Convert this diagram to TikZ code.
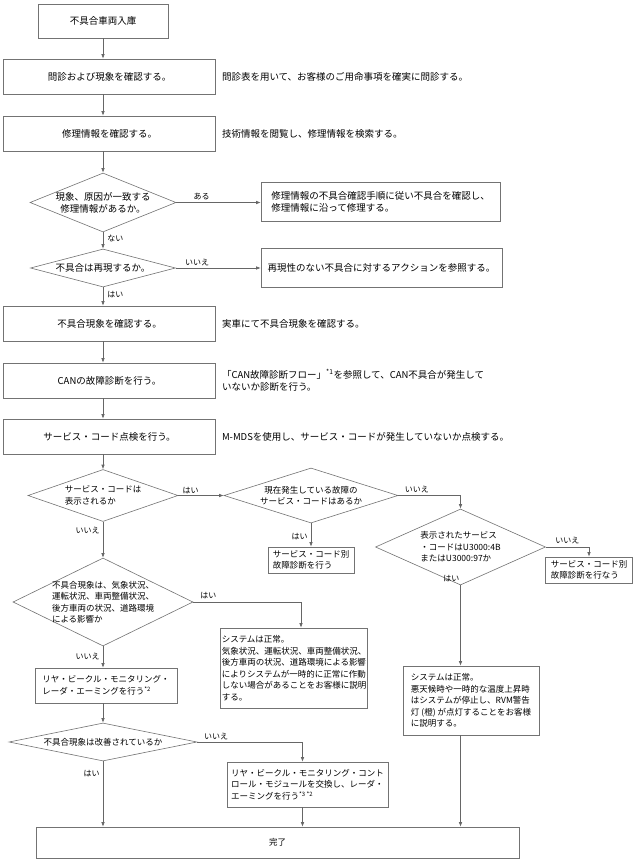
\documentclass[tikz,border=0pt]{standalone}
\usepackage{fontspec}
\setmainfont{Noto Sans CJK JP}
\usetikzlibrary{shapes.geometric,arrows.meta,positioning}

\tikzset{
  block/.style={rectangle, draw=black!55, line width=0.6pt, fill=white,
    inner sep=2pt, font=\fontsize{9.5}{12}\selectfont},
  textblock/.style={block, align=left},
  smallblock/.style={block, align=left, inner xsep=1.5pt, font=\fontsize{8.5}{11.5}\selectfont},
  decision/.style={diamond, draw=black!55, line width=0.6pt, fill=white,
    inner xsep=-12pt, inner ysep=-4pt, align=center, font=\fontsize{8.5}{11.5}\selectfont},
  bigfont/.style={font=\fontsize{9.5}{12}\selectfont},
  note/.style={inner sep=0pt, align=left, font=\fontsize{9.5}{12}\selectfont},
  lbl/.style={inner sep=0pt, font=\fontsize{8}{10}\selectfont},
  flow/.style={draw=black!60, line width=0.6pt, -{Latex[length=4.5pt,width=3.5pt]}}
}

\begin{document}
\begin{tikzpicture}[x=1pt, y=-1pt]
  \useasboundingbox (0,0) rectangle (635,861);

  % main column
  \node [block, minimum width=130pt, minimum height=34pt] (nyuko) at (103,21) {不具合車両入庫};
  \node [block, minimum width=212pt, minimum height=35pt] (monshin) at (109.5,76.5) {問診および現象を確認する。};
  \node [note, right=6pt of monshin] (monshinnote) {問診表を用いて、お客様のご用命事項を確実に問診する。};
  \node [block, minimum width=212pt, minimum height=35pt] (joho) at (109.5,133.5) {修理情報を確認する。};
  \node [note, right=6pt of joho] (johonote) {技術情報を閲覧し、修理情報を検索する。};

  \node [decision, bigfont, minimum width=146pt, minimum height=59pt, aspect=2.47] (icchi) at (103,202.5) {現象、原因が一致する\\修理情報があるか。};
  \node [textblock, minimum width=239pt, minimum height=39pt] (shuri) at (380.5,201.5) {修理情報の不具合確認手順に従い不具合を確認し、\\修理情報に沿って修理する。};

  \node [decision, bigfont, minimum width=145pt, minimum height=38pt, aspect=3.8] (saigen) at (103,268) {不具合は再現するか。};
  \node [textblock, minimum width=241pt, minimum height=39pt] (action) at (381.5,267.5) {再現性のない不具合に対するアクションを参照する。};

  \node [block, minimum width=212pt, minimum height=35pt] (genshou) at (109.5,323.5) {不具合現象を確認する。};
  \node [note, right=6pt of genshou] (genshounote) {実車にて不具合現象を確認する。};
  \node [block, minimum width=212pt, minimum height=35pt] (can) at (109.5,380.5) {CANの故障診断を行う。};
  \node [note, right=6pt of can] (cannote) {「CAN故障診断フロー」\textsuperscript{*1}を参照して、CAN不具合が発生して\\いないか診断を行う。};
  \node [block, minimum width=212pt, minimum height=35pt] (sc) at (109.5,436.5) {サービス・コード点検を行う。};
  \node [note, right=6pt of sc] (scnote) {M-MDSを使用し、サービス・コードが発生していないか点検する。};

  % service code branch
  \node [decision, align=left, minimum width=150pt, minimum height=52pt, aspect=2.9] (hyouji) at (103,495.5) {サービス・コードは\\表示されるか};
  \node [decision, minimum width=174pt, minimum height=55pt, aspect=3.2] (genzai) at (311,495.5) {現在発生している故障の\\サービス・コードはあるか};
  \node [smallblock, minimum width=86pt, minimum height=26pt] (scbetsu) at (311,560) {サービス・コード別\\故障診断を行う};
  \node [decision, align=left, minimum width=170pt, minimum height=76pt, aspect=2.2] (u3000) at (460.5,547) {表示されたサービス\\・コードはU3000:4B\\またはU3000:97か};
  \node [smallblock, minimum width=87pt, minimum height=26pt] (scbetsu2) at (589,570) {サービス・コード別\\故障診断を行なう};
  \node [smallblock, minimum width=136pt, minimum height=69pt] (rvm) at (471,700.5) {システムは正常。\\悪天候時や一時的な温度上昇時\\はシステムが停止し、RVM警告\\灯 (橙) が点灯することをお客様\\に説明する。};

  \node [decision, align=left, minimum width=180pt, minimum height=88pt, aspect=2.05] (eikyou) at (103,602) {不具合現象は、気象状況、\\運転状況、車両整備状況、\\後方車両の状況、道路環境\\による影響か};
  \node [smallblock, minimum width=146pt, minimum height=80pt] (seijou) at (294,668) {システムは正常。\\気象状況、運転状況、車両整備状況、\\後方車両の状況、道路環境による影響\\によりシステムが一時的に正常に作動\\しない場合があることをお客様に説明\\する。};
  \node [smallblock, minimum width=142pt, minimum height=35pt] (aiming) at (106,685.5) {リヤ・ビークル・モニタリング・\\レーダ・エーミングを行う\textsuperscript{*2}};

  \node [decision, minimum width=188pt, minimum height=38pt, aspect=4.9] (kaizen) at (103,742) {不具合現象は改善されているか};
  \node [smallblock, minimum width=161pt, minimum height=45pt] (koukan) at (307.5,784.5) {リヤ・ビークル・モニタリング・コント\\ロール・モジュールを交換し、レーダ・\\エーミングを行う\textsuperscript{*3 *2}};

  \node [block, font=\fontsize{8.5}{11}\selectfont, minimum width=483pt, minimum height=31pt] (kanryo) at (277.5,842.5) {完了};

  \coordinate (seijoutop) at ([xshift=7pt]seijou.north);
  \coordinate (koukantop) at ([xshift=-5pt]koukan.north);
  \coordinate (koukanbot) at ([xshift=-5pt]koukan.south);

  % connectors
  \draw [flow] (nyuko) -- (nyuko |- monshin.north);
  \draw [flow] (monshin.south -| icchi) -- (joho.north -| icchi);
  \draw [flow] (joho.south -| icchi) -- (icchi);
  \draw [flow] (icchi) -- node [lbl, above=2pt, pos=0.3] {ある} (icchi -| shuri.west);
  \draw [flow] (icchi) -- node [lbl, right=4pt, pos=0.4] {ない} (saigen);
  \draw [flow] (saigen) -- node [lbl, above=2pt, pos=0.25] {いいえ} (saigen -| action.west);
  \draw [flow] (saigen) -- node [lbl, right=4pt, pos=0.42] {はい} (saigen |- genshou.north);
  \draw [flow] (genshou.south -| icchi) -- (can.north -| icchi);
  \draw [flow] (can.south -| icchi) -- (sc.north -| icchi);
  \draw [flow] (sc.south -| icchi) -- (hyouji);

  \draw [flow] (hyouji) -- node [lbl, above=1pt, pos=0.27] {はい} (genzai);
  \draw [flow] (genzai) -| node [lbl, above=2pt, pos=0.15] {いいえ} (u3000);
  \draw [flow] (genzai) -- node [lbl, left=3pt, pos=0.55] {はい} (scbetsu);
  \draw [flow] (u3000) -| node [lbl, above=3pt, pos=0.25] {いいえ} (scbetsu2);
  \draw [flow] (u3000) -- (u3000 |- rvm.north);
  \node [lbl, above left=3pt and 1pt of u3000.south] (u3000yes) {はい};

  \draw [flow] (hyouji) -- node [lbl, left=3pt, pos=0.25] {いいえ} (eikyou);
  \draw [flow] (eikyou) -| node [lbl, above=3pt, pos=0.07] {はい} (seijoutop);
  \draw [flow] (eikyou) -- node [lbl, left=3pt, pos=0.5] {いいえ} (eikyou |- aiming.north);
  \draw [flow] (aiming.south -| eikyou) -- (kaizen);
  \draw [flow] (kaizen) -| node [lbl, above=2pt, pos=0.09] {いいえ} (koukantop);
  \draw [flow] (kaizen) -- node [lbl, left=3pt, pos=0.18] {はい} (kaizen |- kanryo.north);
  \draw [flow] (koukanbot) -- (koukanbot |- kanryo.north);
  \draw [flow] (u3000 |- rvm.south) -- (u3000 |- kanryo.north);
\end{tikzpicture}
\end{document}
